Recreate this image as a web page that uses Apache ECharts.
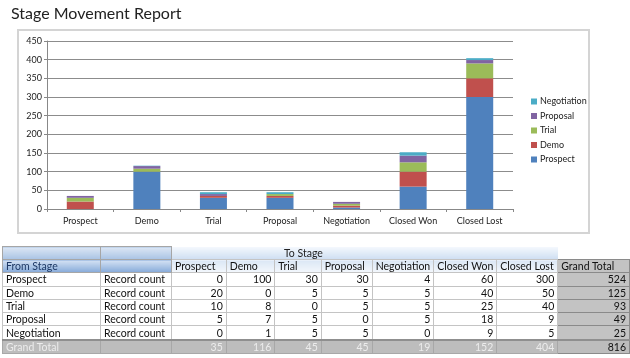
<!DOCTYPE html>
<html><head><meta charset="utf-8">
<script src="https://cdn.jsdelivr.net/npm/echarts@6/dist/echarts.min.js"></script>
<style>
html,body{margin:0;padding:0;background:#fff;width:630px;height:358px;overflow:hidden;}
#chart{position:absolute;left:0;top:0;width:630px;height:358px;}
#tbl{position:absolute;left:2px;top:246px;border-collapse:collapse;table-layout:fixed;font-family:Lato,"Noto Sans",sans-serif;font-size:10.5px;color:#111;}
#tbl td{height:12.3px;padding:0 3px;line-height:12px;border:1px solid #c4c4c4;white-space:nowrap;overflow:hidden;}
#tbl td.n{text-align:right;}
#tbl tr.h1 td{height:12px;}
#tbl td.hb1{background:linear-gradient(#dbe6f4,#a9c3e4);border:1px solid #a6a6a6;}
#tbl td.hb2{background:linear-gradient(#d3e1f3,#86aad9);border:1px solid #a6a6a6;color:#1f3a66;}
#tbl td.to{background:linear-gradient(#f4f8fd,#cfdff2);border:none;text-align:left;color:#222;padding-left:112px;}
#tbl td.ch{background:linear-gradient(#dbe7f5,#f3f7fc);}
#tbl td.gt{background:#c3c3c3;border:1px solid #8a8a8a;}
#tbl td.gth{background:#c3c3c3;border:1px solid #8a8a8a;border-bottom:1px solid #8a8a8a;}
#tbl tr.tot td{background:#bdbdbd;color:#ececec;border:1px solid #a8a8a8;border-top:2px solid #8f8f8f;}
#tbl tr.tot td.gt{color:#111;border:1px solid #8a8a8a;border-top:2px solid #8f8f8f;}
</style>
</head><body>
<div id="chart"></div>
<table id="tbl"></table>
<script>
var toStages = ['Prospect','Demo','Trial','Proposal','Negotiation','Closed Won','Closed Lost'];
var fromStages = ['Prospect','Demo','Trial','Proposal','Negotiation'];
var fromProspect = [0,100,30,30,4,60,300];
var fromDemo = [20,0,5,5,5,40,50];
var fromTrial = [10,8,0,5,5,25,40];
var fromProposal = [5,7,5,0,5,18,9];
var fromNegotiation = [0,1,5,5,0,9,5];
var yTicks = [0,50,100,150,200,250,300,350,400,450];
var seriesValues = [fromProspect, fromDemo, fromTrial, fromProposal, fromNegotiation];
var colors = ['#4F81BD','#C0504D','#9BBB59','#8064A2','#4BACC6'];

var chart = echarts.init(document.getElementById('chart'));
var font = 'Lato, "Noto Sans", sans-serif';
chart.setOption({
  animation:false,
  textStyle:{fontFamily:font},
  title:{text:'Stage Movement Report',left:6,top:1,textStyle:{fontSize:16,fontWeight:'normal',color:'#222',fontFamily:font}},
  graphic:[{type:'rect',shape:{x:18,y:30,width:571,height:203},style:{fill:'#fff',stroke:'#d4d4d4',lineWidth:2},z:-10}],
  legend:{orient:'vertical',left:526,top:92,itemWidth:6,itemHeight:6,itemGap:5.5,icon:'rect',
    data:fromStages.slice().reverse(),textStyle:{fontSize:9,color:'#222',padding:[0,0,0,-2]}},
  grid:{left:47,top:41,width:466,height:168},
  xAxis:{type:'category',data:toStages,
    axisLine:{lineStyle:{color:'#888'}},
    axisTick:{show:true,length:3,lineStyle:{color:'#888'}},
    axisLabel:{fontSize:9,color:'#222',margin:8}},
  yAxis:{type:'value',min:yTicks[0],max:yTicks[yTicks.length-1],interval:yTicks[1]-yTicks[0],
    axisLine:{show:true,lineStyle:{color:'#888'}},
    axisTick:{show:true,length:3,lineStyle:{color:'#888'}},
    splitLine:{lineStyle:{color:'#8c8c8c'}},
    axisLabel:{fontSize:9,color:'#222',margin:5}},
  series:fromStages.map(function(n,i){return {name:n,type:'bar',stack:'s',barWidth:27,data:seriesValues[i],itemStyle:{color:colors[i]}};})
});

// table
var widths=[99,71,55,49,47,51,58,60,61,72];
var html='<colgroup>'+widths.map(function(w){return '<col style="width:'+w+'px">';}).join('')+'</colgroup>';
html+='<tr class="h1"><td class="hb1"></td><td class="hb1"></td><td class="to" colspan="'+toStages.length+'">To Stage</td><td style="border:none"></td></tr>';
html+='<tr><td class="hb2">From Stage</td><td class="hb2"></td>'+toStages.map(function(s){return '<td class="ch">'+s+'</td>';}).join('')+'<td class="gth">Grand Total</td></tr>';
var colTot=toStages.map(function(){return 0;});
var grand=0;
fromStages.forEach(function(f,i){
  var row=seriesValues[i], rs=0;
  html+='<tr><td>'+f+'</td><td>Record count</td>';
  row.forEach(function(v,j){html+='<td class="n">'+v+'</td>';rs+=v;colTot[j]+=v;});
  grand+=rs;
  html+='<td class="n gt">'+rs+'</td></tr>';
});
html+='<tr class="tot"><td>Grand Total</td><td></td>'+colTot.map(function(v){return '<td class="n">'+v+'</td>';}).join('')+'<td class="n gt">'+grand+'</td></tr>';
document.getElementById('tbl').innerHTML=html;
</script>
</body></html>
